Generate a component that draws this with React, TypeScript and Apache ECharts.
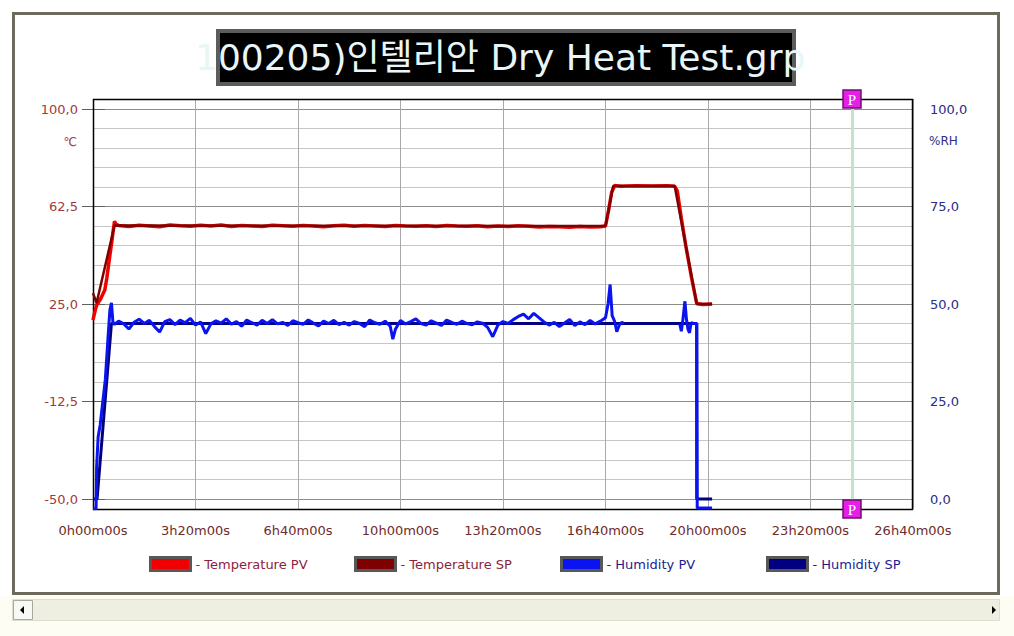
import React, { useEffect, useRef } from "react";
import * as echarts from "echarts";

// ---------- data (time in minutes) ----------
const xTickLabels = ["0h00m00s", "3h20m00s", "6h40m00s", "10h00m00s", "13h20m00s", "16h40m00s", "20h00m00s", "23h20m00s", "26h40m00s"];
const tempTickLabels = ["-50,0", "-12,5", "25,0", "62,5", "100,0"];
const humTickLabels = ["0,0", "25,0", "50,0", "75,0", "100,0"];

const seriesNames = ["Temperature PV", "Temperature SP", "Humidity PV", "Humidity SP"];

const tempSpTime = [0, 7, 42, 1000, 1015, 1135, 1178, 1208];
const tempSpValue = [29.2, 25.4, 55.2, 55.0, 70.4, 70.4, 25.0, 25.0];

const tempPvTime = [0, 3, 7, 15, 23, 27, 31, 36, 40, 42, 45, 50, 70, 90, 110, 130, 150, 170, 190, 210, 230, 250, 270, 290, 310, 330, 350, 370, 390, 410, 430, 450, 470, 490, 510, 530, 550, 570, 590, 610, 630, 650, 670, 690, 710, 730, 750, 770, 790, 810, 830, 850, 870, 890, 910, 930, 950, 970, 990, 1000, 1006, 1012, 1018, 1030, 1060, 1090, 1120, 1135, 1140, 1148, 1157, 1168, 1178, 1190, 1208];
const tempPvValue = [18.8, 21.5, 24.5, 27.0, 30.4, 35.0, 41.0, 48.0, 54.0, 56.8, 55.6, 55.2, 54.8, 55.3, 55.0, 54.7, 55.4, 55.1, 54.9, 55.3, 55.0, 55.4, 54.8, 55.2, 55.0, 54.8, 55.3, 55.1, 54.9, 55.2, 55.0, 54.7, 55.1, 55.3, 54.9, 55.2, 55.0, 54.8, 55.2, 55.0, 54.9, 55.1, 54.8, 55.2, 55.0, 54.9, 55.1, 54.7, 55.0, 54.8, 55.1, 54.9, 54.6, 54.8, 54.7, 54.5, 54.8, 54.6, 54.7, 55.0, 61.0, 68.0, 70.6, 70.3, 70.5, 70.4, 70.5, 70.3, 68.5, 58.0, 47.0, 35.0, 25.2, 24.8, 25.0];

const humSpTime = [0, 8, 36, 1178, 1178, 1208];
const humSpValue = [0, 0, 45, 45, 0, 0];

const humPvTime = [0, 6, 7, 10, 14, 18, 24, 29, 33, 36, 39, 42,
  50, 60, 70, 80, 90, 100, 110, 120, 130, 140, 150, 160, 170, 180, 190, 200, 210, 220, 230, 240, 250, 260, 270, 280, 290, 300,
  310, 320, 330, 340, 350, 360, 370, 380, 390, 400, 410, 420, 430, 440, 450, 460, 470, 480, 490, 500, 510, 520, 530, 540, 550,
  560, 570, 580, 585, 590, 600, 610, 620, 630, 640, 650, 660, 670, 680, 690, 700, 710, 720, 730, 740, 750, 760, 770, 780, 790,
  800, 810, 820, 830, 840, 850, 860, 870, 880, 890, 900, 910, 920, 930, 940, 950, 960, 970, 980, 990, 1000, 1005, 1009, 1013,
  1018, 1022, 1027, 1032, 1036, 1090, 1145, 1148, 1151, 1155, 1158, 1161, 1164, 1167, 1172, 1178, 1179, 1208];
const humPvValue = [-2.5, -2.5, 8, 15.9, 19, 23.7, 30.6, 40.8, 48.5, 50.3, 45.1, 44.8,
  45.6, 44.9, 43.6, 45.3, 46.1, 45.0, 45.8, 44.2, 42.8, 45.5, 46.0, 44.7, 45.9, 45.2, 46.3, 44.6, 45.4, 42.4, 44.9, 45.7, 45.1, 46.2, 44.8, 45.5, 44.3, 45.9,
  45.2, 44.6, 45.8, 45.0, 46.0, 44.9, 45.3, 44.5, 45.7, 45.2, 44.8, 45.9, 45.1, 44.4, 45.6, 45.0, 45.8, 44.7, 45.3, 44.6, 45.5, 45.0, 44.2, 45.9, 45.2,
  44.8, 45.6, 44.3, 41.0, 43.5, 45.8, 44.9, 45.5, 46.2, 45.0, 44.6, 45.7, 45.1, 44.5, 45.9, 45.3, 44.8, 45.6, 45.0, 44.7, 45.4, 45.1, 44.0, 41.6, 44.6,
  45.5, 45.0, 46.0, 46.8, 47.4, 46.2, 47.6, 46.5, 45.4, 44.6, 45.3, 44.2, 45.1, 46.0, 44.5, 45.4, 44.7, 45.8, 44.9, 45.6, 46.5, 50.0, 55.0, 47.0,
  45.5, 42.9, 44.6, 45.3, 45.0, null, 44.8, 43.0, 46.0, 50.7, 46.0, 43.5, 42.6, 45.2, 45.0, 45.0, -2.3, -2.3];

const pMarkerTime = 1482;

// ---------- layout ----------
const PLOT_LEFT = 93;
const PLOT_W = 820;
const TICK_TOP = 109;
const TICK_H = 390;
const PAD = 10;
const tempMin = -50, tempMax = 100, humMin = 0, humMax = 100;
const tempPad = (PAD / TICK_H) * (tempMax - tempMin);
const humPad = (PAD / TICK_H) * (humMax - humMin);

const FONT = "'DejaVu Sans', 'Noto Sans CJK KR', sans-serif";
const colors = ["#f00000", "#7e0000", "#0a14f0", "#000080"];
const legendTextColors = ["#8a2440", "#8a2440", "#1c1c90", "#1c1c90"];
const legendLeft = [144, 349, 555, 761];

const pairs = (t: number[], v: (number | null)[]) => t.map((x, i) => [x, v[i]]);

export default function App() {
  const ref = useRef<HTMLDivElement>(null);
  useEffect(() => {
    if (!ref.current) return;
    const chart = echarts.init(ref.current, null, { renderer: "svg" });
    const lineBase = {
      type: "line",
      xAxisIndex: 0,
      showSymbol: false,
      symbol: "none",
      silent: true,
      connectNulls: false,
    };
    chart.setOption({
      animation: false,
      backgroundColor: "#ffffff",
      grid: [
        { left: PLOT_LEFT, top: TICK_TOP - PAD, width: PLOT_W, height: TICK_H + 2 * PAD, outerBoundsMode: "none" },
        { left: PLOT_LEFT, top: TICK_TOP, width: PLOT_W, height: TICK_H, outerBoundsMode: "none" },
      ],
      xAxis: [
        {
          type: "value", gridIndex: 0, min: 0, max: 1600, interval: 200,
          axisLine: { show: false }, axisTick: { show: false },
          splitLine: { show: true, lineStyle: { color: "#a9a9a9", width: 1 } },
          axisLabel: {
            margin: 15, color: "#6e2b2b", fontSize: 13, fontFamily: FONT,
            formatter: (v: number) => xTickLabels[Math.round(v / 200)] ?? "",
          },
        },
        { type: "value", gridIndex: 1, min: 0, max: 1600, show: false },
      ],
      yAxis: [
        { type: "value", gridIndex: 0, min: tempMin - tempPad, max: tempMax + tempPad, show: false },
        { type: "value", gridIndex: 0, min: humMin - humPad, max: humMax + humPad, show: false, position: "right" },
        {
          type: "value", gridIndex: 1, position: "right", min: 0, max: 100, interval: 25,
          axisLine: { show: false },
          axisTick: { show: true, length: 12, lineStyle: { color: "#606060" } },
          splitLine: { show: true, lineStyle: { color: "#8c8c8c", width: 1 } },
          minorTick: { show: false, splitNumber: 5 },
          minorSplitLine: { show: true, lineStyle: { color: "#c6c6c6", width: 1 } },
          axisLabel: {
            margin: 17, color: "#2c2c86", fontSize: 13, fontFamily: FONT,
            formatter: (v: number) => humTickLabels[Math.round(v / 25)] ?? "",
          },
        },
        {
          type: "value", gridIndex: 1, position: "left", min: 0, max: 100, interval: 25,
          axisLine: { show: false },
          axisTick: { show: true, length: 11, lineStyle: { color: "#606060" } },
          splitLine: { show: false },
          axisLabel: {
            margin: 15, color: "#a23a3a", fontSize: 13, fontFamily: FONT,
            formatter: (v: number) => tempTickLabels[Math.round(v / 25)] ?? "",
          },
        },
      ],
      legend: seriesNames.map((name, i) => ({
        left: legendLeft[i],
        top: 551,
        icon: "rect",
        itemWidth: 40,
        itemHeight: 13,
        selectedMode: false,
        formatter: "- {name}",
        itemStyle: { borderColor: "#585858", borderWidth: 3 },
        textStyle: { fontSize: 13, fontFamily: FONT, color: legendTextColors[i] },
        data: [{ name, textStyle: { color: legendTextColors[i] } }],
      })),
      series: [
        { ...lineBase, name: seriesNames[0], yAxisIndex: 0, z: 3, color: colors[0],
          lineStyle: { color: colors[0], width: 3.5 }, data: pairs(tempPvTime, tempPvValue) },
        { ...lineBase, name: seriesNames[1], yAxisIndex: 0, z: 4, color: colors[1],
          lineStyle: { color: colors[1], width: 2.5 }, data: pairs(tempSpTime, tempSpValue) },
        { ...lineBase, name: seriesNames[2], yAxisIndex: 1, z: 4, color: colors[2],
          lineStyle: { color: colors[2], width: 3 }, data: pairs(humPvTime, humPvValue) },
        { ...lineBase, name: seriesNames[3], yAxisIndex: 1, z: 3, color: colors[3],
          lineStyle: { color: colors[3], width: 3 }, data: pairs(humSpTime, humSpValue),
          markLine: {
            silent: true, symbol: ["none", "none"], label: { show: false },
            lineStyle: { color: "#c2e2cb", width: 3, type: "solid" },
            data: [{ xAxis: pMarkerTime }],
          } },
      ],
      graphic: [
        // outer frame
        { type: "rect", z: 0, shape: { x: 13.5, y: 13.5, width: 985, height: 580 },
          style: { fill: "none", stroke: "#6d6a5c", lineWidth: 3 } },
        // bottom strip + scrollbar
        { type: "rect", z: 0, shape: { x: 0, y: 596, width: 1014, height: 40 }, style: { fill: "#fdfdf4" } },
        { type: "rect", z: 0, shape: { x: 12.5, y: 599.5, width: 987, height: 21 },
          style: { fill: "#efefe1", stroke: "#deded0", lineWidth: 1 } },
        { type: "rect", z: 1, shape: { x: 13.5, y: 600.5, width: 19, height: 19 },
          style: { fill: "#f8f8f4", stroke: "#a8a8a0", lineWidth: 1 } },
        { type: "polygon", z: 2, shape: { points: [[20, 610], [24, 606], [24, 614]] }, style: { fill: "#000" } },
        { type: "polygon", z: 2, shape: { points: [[996, 610], [992, 606], [992, 614]] }, style: { fill: "#000" } },
        // title
        { type: "rect", z: 5, shape: { x: 218, y: 31, width: 576, height: 53 },
          style: { fill: "#000000", stroke: "#5c5c5c", lineWidth: 4 } },
        { type: "text", z: 6, x: 195, y: 57,
          style: { text: "100205)인텔리안 Dry Heat Test.grp", fill: "#e9f6f9", font: "36px " + FONT,
            textAlign: "left", verticalAlign: "middle" } },
        // plot border
        { type: "rect", z: 1, shape: { x: PLOT_LEFT + 0.5, y: TICK_TOP - PAD + 0.5, width: PLOT_W - 1, height: TICK_H + 2 * PAD },
          style: { fill: "none", stroke: "#000000", lineWidth: 1.5 } },
        // unit labels
        { type: "text", z: 5, x: 77, y: 142,
          style: { text: "℃", fill: "#a23a3a", font: "12px " + FONT, textAlign: "right", verticalAlign: "middle" } },
        { type: "text", z: 5, x: 929, y: 141,
          style: { text: "%RH", fill: "#2c2c86", font: "12px " + FONT, textAlign: "left", verticalAlign: "middle" } },
        // P markers
        { type: "rect", z: 10, shape: { x: 843, y: 90, width: 18, height: 18 },
          style: { fill: "#e61ee6", stroke: "#6c1070", lineWidth: 1.5 } },
        { type: "text", z: 11, x: 852, y: 99.5,
          style: { text: "P", fill: "#ffffff", font: "15px 'Liberation Serif', serif", textAlign: "center", verticalAlign: "middle" } },
        { type: "rect", z: 10, shape: { x: 843, y: 500, width: 18, height: 18 },
          style: { fill: "#e61ee6", stroke: "#6c1070", lineWidth: 1.5 } },
        { type: "text", z: 11, x: 852, y: 509.5,
          style: { text: "P", fill: "#ffffff", font: "15px 'Liberation Serif', serif", textAlign: "center", verticalAlign: "middle" } },
      ],
    });
    return () => chart.dispose();
  }, []);
  return (
    <div
      ref={ref}
      style={{ position: "absolute", left: 0, top: 0, width: 1014, height: 636, background: "#ffffff" }}
    />
  );
}
